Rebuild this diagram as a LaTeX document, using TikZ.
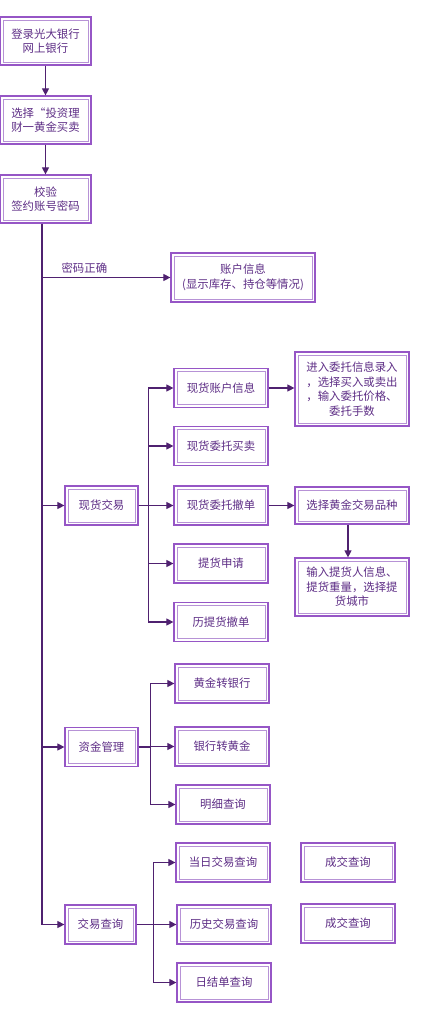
\documentclass[tikz,border=0pt]{standalone}
\usepackage{fontspec}
\setmainfont{Noto Sans CJK SC}
\usetikzlibrary{arrows.meta,shadows}

\definecolor{bordo}{HTML}{9656C6}
\definecolor{bordoint}{HTML}{B792D6}
\definecolor{testo}{HTML}{5E2E86}
\definecolor{linea}{HTML}{4F2170}

\tikzset{
    box/.style={draw=bordo, line width=1.2pt, fill=white, text=testo, align=center,
        inner sep=0pt, minimum width=94pt, minimum height=39pt,
        drop shadow={fill=black, opacity=0.12, shadow xshift=0.8pt, shadow yshift=-0.8pt},
        path picture={\draw[bordoint, line width=1pt]
            ([shift={(3pt,-3pt)}]path picture bounding box.north west) rectangle
            ([shift={(-3pt,3pt)}]path picture bounding box.south east);}},
    passo/.style={box, minimum width=91pt, minimum height=48pt},
    freccia/.style={draw=linea, line width=1.1pt, -{Triangle[length=7pt,width=7pt]}}
}

\begin{document}
\begin{tikzpicture}[x=1pt, y=-1pt, font=\fontsize{11.4}{14.5}\selectfont]
    \useasboundingbox (0,0) rectangle (428,1012);

    % Disegna i passi iniziali
    \node[passo] (login) at (45.5,41) {登录光大银行\\网上银行};
    \node[passo] (select) at (45.5,120) {选择“投资理\\财一黄金买卖};
    \node[passo] (verify) at (45.5,199) {校验\\签约账号密码};
    \node[box, minimum width=144pt, minimum height=49pt] (acct) at (243,277.5) {账户信息\\(显示库存、持仓等情况)};

    % Disegna i tre menu
    \node[box, minimum width=73pt] (spot) at (101.5,505.5) {现货交易};
    \node[box, minimum width=73pt] (fund) at (101.5,747) {资金管理};
    \node[box, minimum width=71pt] (query) at (100.5,924.5) {交易查询};

    % Voci di现货交易
    \node[box] (s1) at (221,388) {现货账户信息};
    \node[box] (s2) at (221,446) {现货委托买卖};
    \node[box] (s3) at (221,505.5) {现货委托撤单};
    \node[box] (s4) at (221,563.5) {提货申请};
    \node[box] (s5) at (221,622) {历提货撤单};
    \node[box, minimum width=114pt, minimum height=74pt] (e1) at (352,389) {进入委托信息录入\\，选择买入或卖出\\，输入委托价格、\\委托手数};
    \node[box, minimum width=114pt, minimum height=37pt] (e3) at (352,505.5) {选择黄金交易品种};
    \node[box, minimum width=114pt, minimum height=58pt] (e4) at (352,587) {输入提货人信息、\\提货重量，选择提\\货城市};

    % Voci di资金管理
    \node[box] (f1) at (222,683.5) {黄金转银行};
    \node[box] (f2) at (222,746.5) {银行转黄金};
    \node[box] (f3) at (223,804.5) {明细查询};

    % Voci di交易查询
    \node[box] (q1) at (223,862.5) {当日交易查询};
    \node[box] (q2) at (224,924.5) {历史交易查询};
    \node[box] (q3) at (224,982.5) {日结单查询};
    \node[box] (r1) at (348,862.5) {成交查询};
    \node[box] (r2) at (348,923.5) {成交查询};

    % Disegna le frecce
    \coordinate (tronco) at (42,0);
    \draw[freccia] (login) -- (select);
    \draw[freccia] (select) -- (verify);
    \draw[freccia] (verify.south -| tronco) |- (query.west);
    \draw[freccia] (tronco |- acct.west) -- node[above, pos=0.33, text=testo] (ok) {密码正确} (acct.west);
    \foreach \n in {spot,fund}
        \draw[freccia] (tronco |- \n.west) -- (\n.west);
    \foreach \n in {s1,s2,s3,s4,s5}
        \draw[freccia] (spot.east) -- ++(10,0) |- (\n.west);
    \foreach \n in {f1,f2,f3}
        \draw[freccia] (fund.east) -- ++(12,0) |- (\n.west);
    \foreach \n in {q1,q2,q3}
        \draw[freccia] (query.east) -- ++(17,0) |- (\n.west);
    \draw[freccia] (s1.east) -- (s1.east -| e1.west);
    \draw[freccia] (s3) -- (e3);
    \draw[freccia] ([xshift=-4pt]e3.south) -- ([xshift=-4pt]e4.north);
\end{tikzpicture}
\end{document}
